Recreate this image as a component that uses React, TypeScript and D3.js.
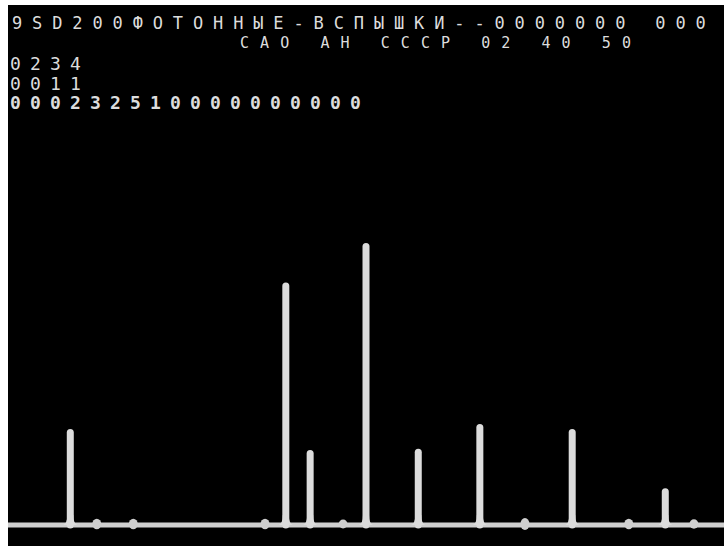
import { useRef, useEffect } from "react";
import * as d3 from "d3";

// screen header (CRT text lines)
const titleLine = "9SD200ФОТОННЫЕ-ВСПЫШКИ--0000000 000";
const stationLine = "САО АН СССР   02 40 50";
const counterLines = ["0234", "0011", "000232510000000000"];

// spectrum peaks: channel position and height (relative units)
const peakChannels = [8.7, 38.8, 42.2, 50.0, 57.3, 65.9, 78.8, 91.8];
const peakCounts = [34, 86, 26.6, 100, 27, 35.8, 34, 13];

// small bumps on the baseline
const bumpChannels = [12.4, 17.5, 35.9, 46.8, 72.2, 86.7, 95.8];
const bumpCounts = [1.5, 1.5, 1.5, 1.2, 1.8, 1.5, 1.3];

const W = 724;
const H = 546;

const App = () => {
  const svgRef = useRef<SVGSVGElement | null>(null);

  useEffect(() => {
    if (!svgRef.current) return;
    const svg = d3.select(svgRef.current);
    svg.selectAll("*").remove();

    const x = d3.scaleLinear().domain([0, 100]).range([8, W]);
    const y = d3.scaleLinear().domain([0, 100]).range([525, 243]);
    const ink = "#dcdcdc";

    // screen
    svg
      .append("rect")
      .attr("x", 8)
      .attr("y", 5)
      .attr("width", W - 8)
      .attr("height", H - 5)
      .attr("fill", "#000");

    // header text
    const txt = svg
      .append("g")
      .attr("fill", ink)
      .attr("font-family", "'DejaVu Sans Mono', monospace");

    txt
      .append("text")
      .attr("x", 12)
      .attr("y", 29)
      .attr("font-size", 17)
      .style("letter-spacing", "9.87px")
      .text(titleLine);

    txt
      .append("text")
      .attr("x", 240)
      .attr("y", 48)
      .attr("font-size", 15)
      .style("letter-spacing", "11.07px")
      .text(stationLine);

    txt
      .selectAll("text.cnt")
      .data(counterLines)
      .join("text")
      .attr("class", "cnt")
      .attr("x", 10)
      .attr("y", (d, i) => 70 + i * 19.5)
      .attr("font-size", 18)
      .attr("font-weight", (d, i) => (i === 2 ? "bold" : "normal"))
      .style("letter-spacing", "9.16px")
      .text((d) => d);

    // baseline
    svg
      .append("line")
      .attr("x1", 8)
      .attr("x2", W)
      .attr("y1", y(0))
      .attr("y2", y(0))
      .attr("stroke", "#cfcfcf")
      .attr("stroke-width", 5);

    // bumps
    svg
      .selectAll("ellipse.bump")
      .data(bumpChannels)
      .join("ellipse")
      .attr("class", "bump")
      .attr("cx", (d) => x(d))
      .attr("cy", y(0) - 1)
      .attr("rx", 4.5)
      .attr("ry", (d, i) => y(0) - y(bumpCounts[i]) + 1)
      .attr("fill", "#cfcfcf");

    // peaks
    const peaks = svg
      .selectAll("g.peak")
      .data(peakChannels)
      .join("g")
      .attr("class", "peak");

    peaks
      .append("path")
      .attr("d", (d) => {
        const cx = x(d);
        const b = y(0);
        return `M${cx - 7},${b} Q${cx - 3},${b - 2} ${cx - 3},${b - 10} L${cx + 3},${b - 10} Q${cx + 3},${b - 2} ${cx + 7},${b} Z`;
      })
      .attr("fill", ink);

    peaks
      .append("line")
      .attr("x1", (d) => x(d))
      .attr("x2", (d) => x(d))
      .attr("y1", y(0))
      .attr("y2", (d, i) => y(peakCounts[i]) + 3.5)
      .attr("stroke", ink)
      .attr("stroke-width", 7)
      .attr("stroke-linecap", "round");
  }, []);

  return (
    <svg
      ref={svgRef}
      width={W}
      height={H}
      style={{ position: "absolute", left: 0, top: 0, display: "block" }}
    ></svg>
  );
};

export default App;
